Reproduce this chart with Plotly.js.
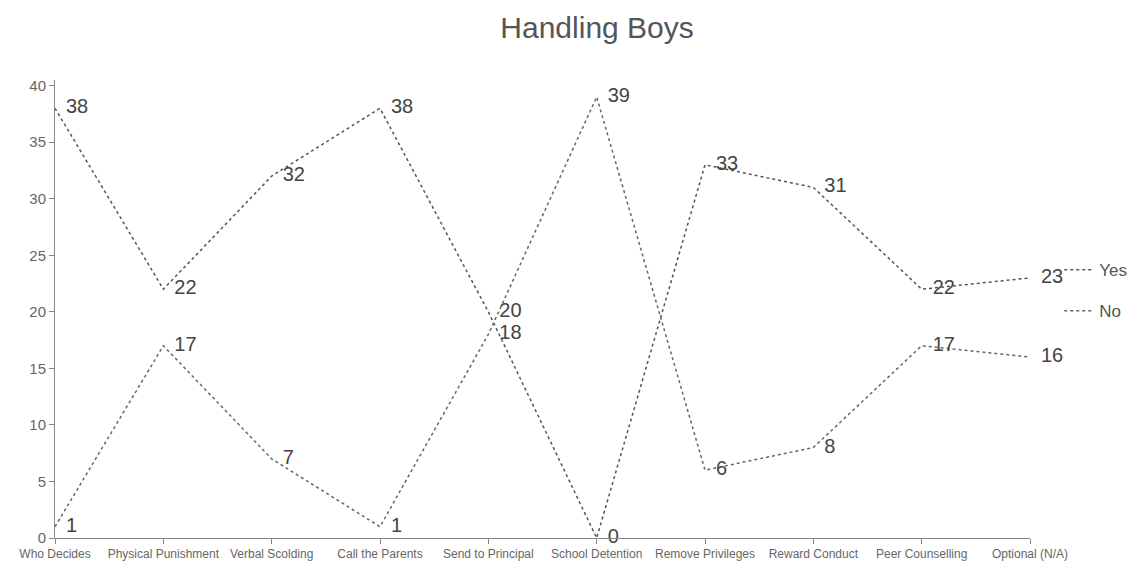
<!DOCTYPE html>
<html>
<head>
<meta charset="utf-8">
<script src="https://cdn.plot.ly/plotly-3.0.1.min.js"></script>
<style>html,body{margin:0;padding:0;background:#fff;}#chart{width:1146px;height:571px;}</style>
</head>
<body>
<div id="chart"></div>
<script>
const categories = [
  "Who Decides", "Physical Punishment", "Verbal Scolding", "Call the Parents",
  "Send to Principal", "School Detention", "Remove Privileges", "Reward Conduct",
  "Peer Counselling", "Optional (N/A)"
];
const yesValues = [38, 22, 32, 38, 20, 0, 33, 31, 22, 23];
const noValues  = [1, 17, 7, 1, 18, 39, 6, 8, 17, 16];
const seriesNames = ["Yes", "No"];
const yTicks = [0, 5, 10, 15, 20, 25, 30, 35, 40];

const lineStyle = (c) => ({color: c, width: 1.5, dash: "dot"});
const hiddenMarker = {size: 16, color: "rgba(0,0,0,0)"};
const labelFont = {size: 20, color: "#444", family: "Liberation Sans, Arial, sans-serif"};
const traces = [
  {x: categories, y: yesValues, name: seriesNames[0], legendgroup: "a",
   mode: "lines+markers+text", text: yesValues.map(String), textposition: "middle right",
   textfont: labelFont, marker: hiddenMarker, line: lineStyle("#555"), cliponaxis: false},
  {x: categories, y: noValues, name: seriesNames[1], legendgroup: "b",
   mode: "lines+markers+text", text: noValues.map(String), textposition: "middle right",
   textfont: labelFont, marker: hiddenMarker, line: lineStyle("#666"), cliponaxis: false}
];

const layout = {
  width: 1146, height: 571,
  margin: {l: 55, r: 116, t: 80, b: 33},
  paper_bgcolor: "#fff", plot_bgcolor: "#fff",
  font: {family: "Liberation Sans, Arial, sans-serif", color: "#555"},
  title: {text: "Handling Boys", x: 0.521, xanchor: "center", y: 0.952, yanchor: "middle",
          font: {size: 30, color: "#555"}},
  xaxis: {type: "category", range: [0, 9], showgrid: false, zeroline: false,
          showline: true, linecolor: "#888", linewidth: 1,
          ticks: "outside", ticklen: 5, tickcolor: "#888",
          tickangle: 0, tickfont: {size: 12, color: "#666"}},
  yaxis: {range: [0, 40.5], tickvals: yTicks, showgrid: false, zeroline: false,
          showline: true, linecolor: "#888", linewidth: 1,
          ticks: "outside", ticklen: 5, tickcolor: "#888",
          tickfont: {size: 15, color: "#666"}},
  showlegend: true,
  legend: {x: 1.03, xanchor: "left", y: 0.54, yanchor: "middle",
           traceorder: "grouped", tracegroupgap: 16,
           font: {size: 17, color: "#555"}, bgcolor: "rgba(0,0,0,0)"}
};

Plotly.newPlot("chart", traces, layout, {displayModeBar: false, staticPlot: true});
</script>
</body>
</html>
